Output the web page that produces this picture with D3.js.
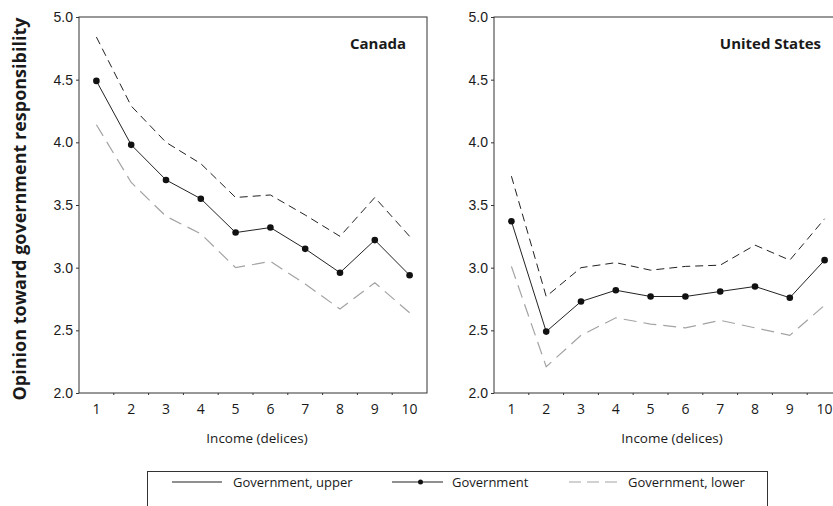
<!DOCTYPE html>
<html>
<head>
<meta charset="utf-8">
<script src="https://cdn.jsdelivr.net/npm/d3@7/dist/d3.min.js"></script>
<style>
  html, body { margin: 0; padding: 0; background: #fff; }
  svg { display: block; font-family: "Open Sans", "Noto Sans", sans-serif; }
</style>
</head>
<body>
<svg id="chart" width="833" height="506"></svg>
<script>
// Income deciles on the x axis
const deciles = [1, 2, 3, 4, 5, 6, 7, 8, 9, 10];
const yTicks = [2.0, 2.5, 3.0, 3.5, 4.0, 4.5, 5.0];

// Canada: mean opinion and its upper / lower bounds
const canadaUpper = [4.84, 4.29, 4.00, 3.83, 3.56, 3.58, 3.42, 3.25, 3.56, 3.25];
const canadaMean  = [4.49, 3.98, 3.70, 3.55, 3.28, 3.32, 3.15, 2.96, 3.22, 2.94];
const canadaLower = [4.14, 3.68, 3.41, 3.27, 3.00, 3.05, 2.87, 2.67, 2.88, 2.64];

// United States
const usUpper = [3.73, 2.77, 3.00, 3.04, 2.98, 3.01, 3.02, 3.18, 3.06, 3.39];
const usMean  = [3.37, 2.49, 2.73, 2.82, 2.77, 2.77, 2.81, 2.85, 2.76, 3.06];
const usLower = [3.01, 2.21, 2.46, 2.60, 2.55, 2.52, 2.58, 2.52, 2.46, 2.70];

const panels = [
  { title: "Canada", left: 79, upper: canadaUpper, mean: canadaMean, lower: canadaLower },
  { title: "United States", left: 494, upper: usUpper, mean: usMean, lower: usLower }
];

const svg = d3.select("#chart");
const plotTop = 17, plotBottom = 393, panelW = 348;
const y = d3.scaleLinear().domain([2, 5]).range([plotBottom, plotTop]);
const grey = "#a3a3a3";
const ink = "#1a1a1a";

panels.forEach(p => {
  const x = d3.scaleBand().domain(deciles).range([p.left, p.left + panelW]);
  const cx = d => x(d) + x.bandwidth() / 2;
  const g = svg.append("g");

  // frame
  g.append("rect")
    .attr("x", p.left).attr("y", plotTop)
    .attr("width", panelW).attr("height", plotBottom - plotTop)
    .attr("fill", "none").attr("stroke", "#333").attr("stroke-width", 1);

  // y axis
  const ya = g.append("g").attr("transform", `translate(${p.left},0)`)
    .call(d3.axisLeft(y).tickValues(yTicks).tickFormat(d3.format(".1f")).tickSize(3).tickPadding(3));
  ya.select(".domain").remove();
  ya.selectAll("line").attr("stroke", "#333");
  ya.selectAll("text").attr("font-size", 14).attr("fill", ink);

  // x axis: ticks on band edges, labels at band centres
  const xa = g.append("g").attr("transform", `translate(0,${plotBottom})`);
  xa.selectAll("line.tk").data(deciles.slice(1)).join("line")
    .attr("x1", d => x(d)).attr("x2", d => x(d))
    .attr("y1", 0).attr("y2", 2).attr("stroke", "#333");
  xa.selectAll("text").data(deciles).join("text")
    .attr("x", cx).attr("y", 21)
    .attr("text-anchor", "middle").attr("font-size", 14).attr("fill", ink)
    .text(d => d);

  g.append("text")
    .attr("x", p.left + panelW / 2 + 4).attr("y", 443)
    .attr("text-anchor", "middle").attr("font-size", 13.5).attr("fill", ink)
    .text("Income (delices)");

  // panel title
  g.append("text")
    .attr("x", p.left + panelW - 21).attr("y", 49)
    .attr("text-anchor", "end").attr("font-size", 15).attr("font-weight", "bold").attr("fill", ink)
    .text(p.title);

  const line = d3.line().x((v, i) => cx(deciles[i])).y(v => y(v));

  g.append("path").attr("d", line(p.lower))
    .attr("fill", "none").attr("stroke", grey).attr("stroke-width", 1.2)
    .attr("stroke-dasharray", "13,7");
  g.append("path").attr("d", line(p.upper))
    .attr("fill", "none").attr("stroke", "#222").attr("stroke-width", 1)
    .attr("stroke-dasharray", "8,5");
  g.append("path").attr("d", line(p.mean))
    .attr("fill", "none").attr("stroke", "#222").attr("stroke-width", 1);
  g.selectAll("circle").data(p.mean).join("circle")
    .attr("cx", (v, i) => cx(deciles[i])).attr("cy", v => y(v))
    .attr("r", 3.3).attr("fill", "#111");
});

// y axis title
svg.append("text")
  .attr("transform", `translate(26,${(plotTop + plotBottom) / 2 + 4}) rotate(-90)`)
  .attr("text-anchor", "middle").attr("font-size", 18).attr("font-weight", "bold").attr("fill", ink)
  .text("Opinion toward government responsibility");

// legend
const lg = svg.append("g");
lg.append("rect").attr("x", 147.5).attr("y", 471.5).attr("width", 620).attr("height", 60)
  .attr("fill", "none").attr("stroke", "#333").attr("stroke-width", 1);
const ly = 482;
const legendItems = [
  { label: "Government, upper", x0: 172, x1: 222, tx: 233, stroke: "#222", dash: null, dot: false },
  { label: "Government", x0: 392, x1: 443, tx: 452, stroke: "#222", dash: null, dot: true },
  { label: "Government, lower", x0: 569, x1: 620, tx: 628, stroke: grey, dash: "12,6", dot: false }
];
legendItems.forEach(it => {
  lg.append("line").attr("x1", it.x0).attr("x2", it.x1).attr("y1", ly).attr("y2", ly)
    .attr("stroke", it.stroke).attr("stroke-width", 1.1)
    .attr("stroke-dasharray", it.dash);
  if (it.dot) lg.append("circle").attr("cx", (it.x0 + it.x1) / 2 + 3).attr("cy", ly).attr("r", 2.5).attr("fill", "#111");
  lg.append("text").attr("x", it.tx).attr("y", ly + 4.5)
    .attr("font-size", 13).attr("fill", ink).text(it.label);
});
</script>
</body>
</html>
